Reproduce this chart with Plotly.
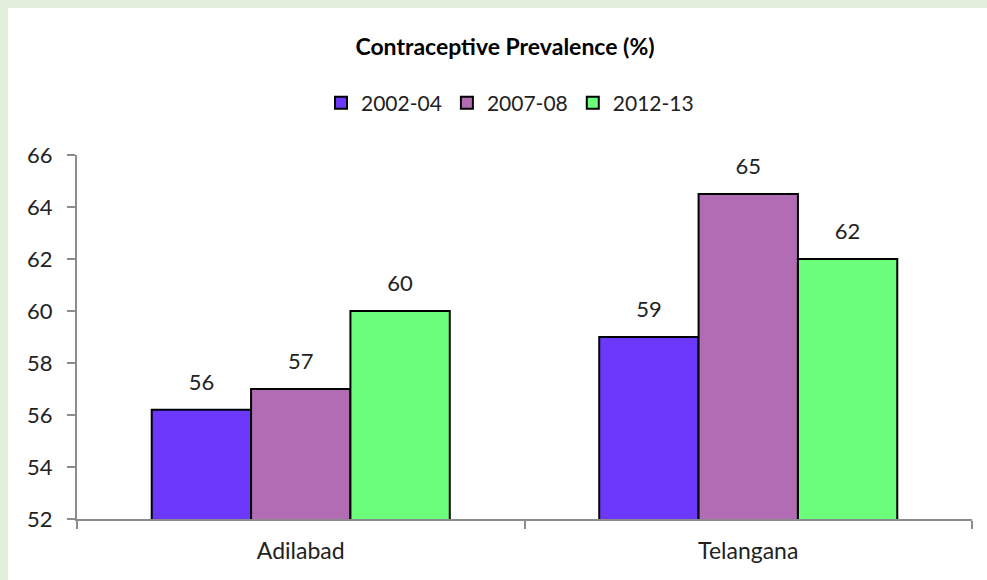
import plotly.graph_objects as go

categories = ["Adilabad", "Telangana"]
series_names = ["2002-04", "2007-08", "2012-13"]
values_2002 = [56.2, 59.0]
values_2007 = [57.0, 64.5]
values_2012 = [60.0, 62.0]
y_ticks = [52, 54, 56, 58, 60, 62, 64, 66]

colors = ["#6C39FC", "#B26CB3", "#6CFF7B"]
FONT = "Lato, Calibri, sans-serif"
GAP = 0.334
BORDER = "#E2EFDA"

fig = go.Figure()
for i, (name, vals, col) in enumerate(zip(series_names, [values_2002, values_2007, values_2012], colors)):
    fig.add_trace(go.Bar(
        x=categories, y=vals, name=name, offsetgroup=str(i),
        marker=dict(color=col, line=dict(color="black", width=2)),
    ))
for i, vals in enumerate([values_2002, values_2007, values_2012]):
    fig.add_trace(go.Scatter(
        x=categories, y=vals, mode="markers+text", offsetgroup=str(i),
        text=[f"{v:.0f}" if v % 1 != 0.5 else f"{int(v) + 1}" for v in vals],
        textposition="top center",
        marker=dict(size=22, opacity=0),
        textfont=dict(size=22, color="#222222", family=FONT),
        showlegend=False, hoverinfo="skip", cliponaxis=False,
    ))

W, H = 987, 580
L, R, T, B = 77, 15, 155, 61
pw, ph = W - L - R, H - T - B


def px2x(px):
    return (px - L) / pw


def py2y(py):
    return (H - B - py) / ph


fig.update_layout(
    width=W, height=H,
    margin=dict(l=L, r=R, t=T, b=B),
    paper_bgcolor="white", plot_bgcolor="white",
    barmode="group", bargap=GAP, bargroupgap=0,
    scattermode="group", scattergap=GAP,
    font=dict(family=FONT, color="#222222"),
    title=dict(text="<b>Contraceptive Prevalence (%)</b>", x=505 / W, xanchor="center",
               y=1 - 47 / H, yanchor="middle",
               font=dict(size=23, color="black", family=FONT)),
    legend=dict(orientation="h", x=px2x(510), xanchor="center",
                y=py2y(103), yanchor="middle",
                font=dict(size=21, color="#222222", family=FONT),
                traceorder="normal", itemwidth=30, bgcolor="rgba(0,0,0,0)"),
    xaxis=dict(showline=True, linecolor="#8C8C8C", linewidth=2,
               ticks="outside", tickson="boundaries", ticklen=8, tickwidth=2,
               tickcolor="#8C8C8C", tickfont=dict(size=23, color="#222222"),
               showgrid=False, zeroline=False, ticklabelstandoff=10),
    yaxis=dict(range=[52, 66], tickvals=y_ticks, showline=True, linecolor="#8C8C8C",
               linewidth=2, ticks="outside", ticklen=8, tickwidth=2, tickcolor="#8C8C8C",
               tickfont=dict(size=22, color="#222222"), showgrid=False, zeroline=False,
               ticklabelstandoff=10),
    shapes=[
        dict(type="rect", xref="paper", yref="paper", layer="below",
             x0=px2x(0), x1=px2x(W), y0=py2y(8), y1=py2y(0),
             fillcolor=BORDER, line=dict(width=0)),
        dict(type="rect", xref="paper", yref="paper", layer="below",
             x0=px2x(0), x1=px2x(8), y0=py2y(H), y1=py2y(0),
             fillcolor=BORDER, line=dict(width=0)),
    ],
)

fig.write_html("out.html", config={"displayModeBar": False},
               post_script="document.body.style.margin='0';")
